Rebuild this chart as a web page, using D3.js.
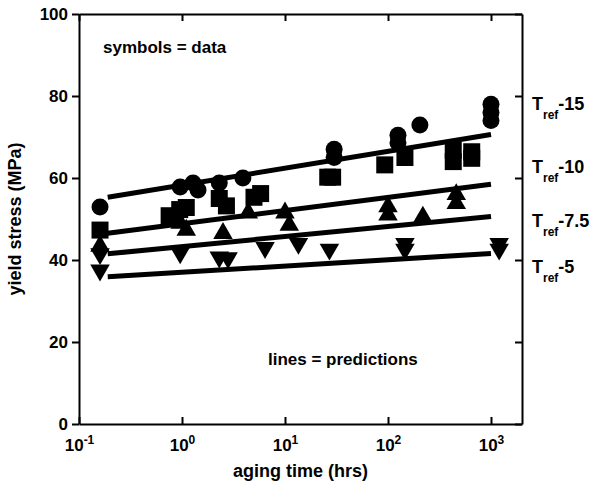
<!DOCTYPE html>
<html>
    <head>
        <title>Yield stress vs aging time</title>
        <script src="https://d3js.org/d3.v7.min.js"></script>
    </head>
    <body style="margin:0;background:#fff">

        <style type="text/css">
            text { font-family: "Liberation Sans", Arial, sans-serif; font-weight: bold; fill: #000; }
            .axis path, .axis line { stroke: #000; stroke-width: 2; }
            .line { fill: none; stroke: #000; stroke-width: 5; }
        </style>

        <script>
            var svgWidth = 592, svgHeight = 490,
                margin = {top: 14, right: 70, bottom: 66, left: 79},
                width = svgWidth - margin.left - margin.right,
                height = svgHeight - margin.top - margin.bottom;

            // data: aging time (hrs) and yield stress (MPa)
            var circleT = [0.16, 0.96, 1.28, 1.43, 2.3, 3.9, 30, 30, 125, 125, 204, 1000, 1000, 1000];
            var circleY = [52.9, 57.8, 58.8, 57.1, 58.8, 60, 65, 67, 68.6, 70.4, 72.9, 74, 76, 78];

            var squareT = [0.16, 0.75, 0.95, 1.1, 2.3, 2.7, 5.0, 5.8, 26, 29, 93, 146, 430, 430, 650, 650];
            var squareY = [47.3, 50.8, 52.3, 52.8, 55, 53.2, 55.3, 56.2, 60.2, 60.2, 63.2, 65, 66.8, 64, 66.4, 64.8];

            var upT = [0.16, 0.96, 1.1, 2.5, 4.4, 10, 11, 100, 100, 218, 460, 460];
            var upY = [43.4, 49, 47.3, 46.5, 51.5, 51.5, 48.5, 53, 51, 50.5, 56, 53.8];

            var downT = [0.16, 0.16, 0.96, 2.3, 2.8, 6.4, 13.5, 27, 146, 146, 1200, 1200];
            var downY = [41.5, 37.5, 41.7, 40.7, 40.5, 43, 44, 42.6, 44, 42.6, 44, 42.6];

            // prediction lines: start and end of each, straight on the log axis
            var lineT = [0.19, 1000];
            var lineLabels = ["-15", "-10", "-7.5", "-5"];
            var lineStart = [55.3, 46.5, 41.5, 35.9];
            var lineEnd = [70.6, 58.5, 50.6, 41.6];
            var labelY = [76.6, 61.2, 48, 36.8];

            var xTicks = [0.1, 1, 10, 100, 1000];
            var yTicks = [0, 20, 40, 60, 80, 100];

            var xScale = d3.scaleLog().domain([0.1, 2000]).range([0, width]);
            var yScale = d3.scaleLinear().domain([0, 100]).range([height, 0]);

            var svg = d3.select("body").append("svg")
                            .attr("width", svgWidth)
                            .attr("height", svgHeight)
                            .append("g")
                                .attr("transform", "translate(" + margin.left + "," + margin.top + ")");

            // axes
            var xAxis = svg.append("g")
                .attr("class", "x axis")
                .attr("transform", "translate(0," + height + ")")
                .call(d3.axisBottom(xScale).tickValues(xTicks).tickSize(-7).tickSizeOuter(0).tickPadding(15).tickFormat(""));

            xAxis.selectAll(".tick text").each(function(d) {
                var t = d3.select(this).attr("font-size", 17);
                t.append("tspan").text("10");
                t.append("tspan").attr("font-size", 12).attr("dy", -7).text(Math.round(Math.log10(d)));
            });

            svg.append("g")
                .attr("class", "x axis")
                .call(d3.axisTop(xScale).tickValues(xTicks).tickSize(-7).tickSizeOuter(0).tickFormat(""));

            svg.append("g")
                .attr("class", "y axis")
                .call(d3.axisLeft(yScale).tickValues(yTicks).tickSize(7).tickSizeOuter(0).tickPadding(4))
                .selectAll("text").attr("font-size", 17);

            svg.append("g")
                .attr("class", "y axis")
                .attr("transform", "translate(" + width + ",0)")
                .call(d3.axisRight(yScale).tickValues(yTicks).tickSize(-7).tickSizeOuter(0).tickFormat(""));

            svg.selectAll(".axis .domain").attr("stroke-width", 2.5);

            // prediction lines
            var line = d3.line()
                            .x(d => xScale(d.t))
                            .y(d => yScale(d.y));

            lineLabels.forEach(function(lab, i) {
                svg.append("path")
                    .datum([{t: lineT[0], y: lineStart[i]}, {t: lineT[1], y: lineEnd[i]}])
                    .attr("class", "line")
                    .attr("d", line);

                var t = svg.append("text")
                    .attr("x", width + 10)
                    .attr("y", yScale(labelY[i]))
                    .attr("font-size", 18);
                t.append("tspan").text("T");
                t.append("tspan").attr("font-size", 12).attr("dy", 9).text("ref");
                t.append("tspan").attr("dy", -9).text(lab);
            });

            // symbols
            function pts(ts, ys) { return ts.map((t, i) => ({t: t, y: ys[i]})); }

            svg.selectAll(".circ")
                .data(pts(circleT, circleY)).enter().append("circle")
                .attr("cx", d => xScale(d.t))
                .attr("cy", d => yScale(d.y))
                .attr("r", 8.5);

            svg.selectAll(".sq")
                .data(pts(squareT, squareY)).enter().append("rect")
                .attr("x", d => xScale(d.t) - 8.5)
                .attr("y", d => yScale(d.y) - 8.5)
                .attr("width", 17)
                .attr("height", 17);

            var tri = d3.symbol().type(d3.symbolTriangle).size(165);

            svg.selectAll(".up")
                .data(pts(upT, upY)).enter().append("path")
                .attr("d", tri)
                .attr("transform", d => "translate(" + xScale(d.t) + "," + yScale(d.y) + ")");

            svg.selectAll(".down")
                .data(pts(downT, downY)).enter().append("path")
                .attr("d", tri)
                .attr("transform", d => "translate(" + xScale(d.t) + "," + yScale(d.y) + ") rotate(180)");

            // notes and titles
            svg.append("text").attr("x", 24).attr("y", 39).attr("font-size", 17).text("symbols = data");
            svg.append("text").attr("x", 189).attr("y", 351).attr("font-size", 17).text("lines = predictions");

            svg.append("text")
                .attr("x", width / 2).attr("y", height + 53)
                .attr("text-anchor", "middle").attr("font-size", 18)
                .text("aging time (hrs)");

            svg.append("text")
                .attr("transform", "translate(-58," + height / 2 + ") rotate(-90)")
                .attr("text-anchor", "middle").attr("font-size", 18)
                .text("yield stress (MPa)");
        </script>
    </body>
</html>
